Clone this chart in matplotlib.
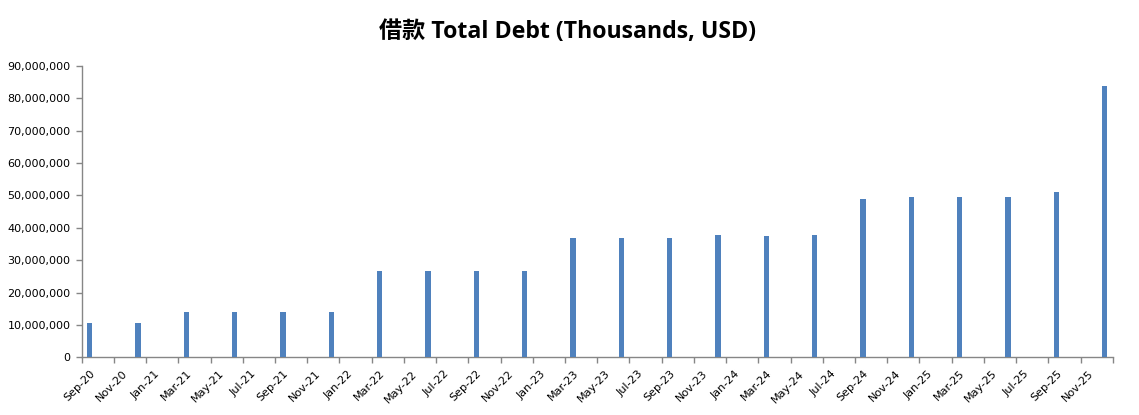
import matplotlib
matplotlib.use("Agg")
import matplotlib.pyplot as plt
from matplotlib.ticker import FuncFormatter, FixedLocator

# Data (quarter-end months)
bar_months = ["2020-09", "2020-12", "2021-03", "2021-06", "2021-09", "2021-12",
              "2022-03", "2022-06", "2022-09", "2022-12", "2023-03", "2023-06",
              "2023-09", "2023-12", "2024-03", "2024-06", "2024-09", "2024-12",
              "2025-03", "2025-06", "2025-09", "2025-12"]
total_debt = [10600000, 10600000, 14000000, 14000000, 14000000, 14000000,
              26700000, 26700000, 26700000, 26700000, 36900000, 36900000,
              36900000, 37800000, 37500000, 37800000, 48900000, 49500000,
              49500000, 49500000, 51100000, 83900000]
month_names = ["Jan", "Feb", "Mar", "Apr", "May", "Jun", "Jul", "Aug",
               "Sep", "Oct", "Nov", "Dec"]
start_year, start_month = 2020, 9
n_months = 64  # Sep-20 .. Dec-25

def month_index(s):
    y, m = map(int, s.split("-"))
    return (y - start_year) * 12 + (m - start_month)

x = [month_index(s) + 0.5 for s in bar_months]

label_idx = list(range(0, n_months, 2))
labels = []
for i in label_idx:
    m = (start_month - 1 + i) % 12
    y = start_year + (start_month - 1 + i) // 12
    labels.append(f"{month_names[m]}-{y % 100:02d}")

fig = plt.figure(figsize=(11.39, 4.15), dpi=100)
ax = fig.add_axes([0.0717, 0.139, 0.977 - 0.0717, 0.841 - 0.139])

ax.bar(x, total_debt, width=0.34, color="#4F81BD", zorder=3)

ax.set_xlim(0, n_months)
ax.set_ylim(0, 90000000)
ax.set_yticks(range(0, 90000001, 10000000))
ax.yaxis.set_major_formatter(FuncFormatter(lambda v, p: f"{int(v):,}"))

axis_col = "#868686"
for s in ["top", "right"]:
    ax.spines[s].set_visible(False)
for s in ["left", "bottom"]:
    ax.spines[s].set_color(axis_col)
    ax.spines[s].set_linewidth(1.0)

ax.xaxis.set_major_locator(FixedLocator(list(range(0, n_months + 1, 2))))
ax.xaxis.set_major_formatter(FuncFormatter(lambda v, p: ""))
ax.xaxis.set_minor_locator(FixedLocator([i + 0.5 for i in label_idx]))
ax.set_xticklabels(labels, minor=True, rotation=45, ha="right",
                   rotation_mode="anchor", fontsize=8, family="DejaVu Sans")
ax.tick_params(axis="x", which="major", direction="out", length=4,
               color=axis_col, width=1)
ax.tick_params(axis="x", which="minor", length=0, pad=8)
ax.tick_params(axis="y", direction="out", length=4, color=axis_col, width=1,
               labelsize=8, pad=4)

fig.text(0.498, 0.922, "借款 Total Debt (Thousands, USD)", ha="center", va="center",
         fontsize=16.7, fontweight="bold",
         family=["Open Sans", "Noto Sans CJK SC", "DejaVu Sans"])

fig.savefig("out.png", dpi=100)
